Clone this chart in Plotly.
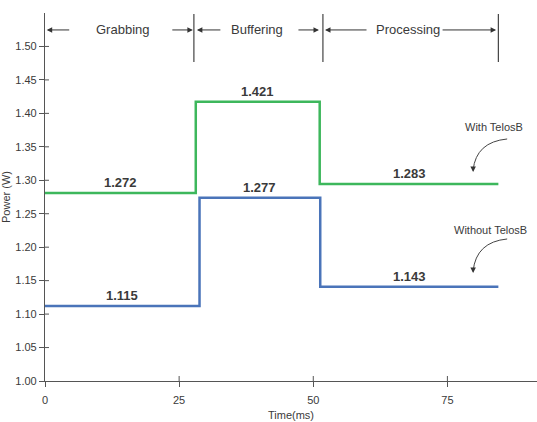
import plotly.graph_objects as go

# ---- data ----
phase_names = ["Grabbing", "Buffering", "Processing"]
phase_bounds = [0.0, 27.75, 51.8, 84.5]

with_t = [0.0, 28.1, 51.2, 84.5]
with_p = [1.281, 1.4175, 1.2945, 1.2945]
with_labels = ["1.272", "1.421", "1.283"]

without_t = [0.0, 28.8, 51.3, 84.5]
without_p = [1.112, 1.274, 1.141, 1.141]
without_labels = ["1.115", "1.277", "1.143"]

x_ticks = [0, 25, 50, 75]
y_ticks = [1.00, 1.05, 1.10, 1.15, 1.20, 1.25, 1.30, 1.35, 1.40, 1.45, 1.50]

X_RANGE = [0, 91.7]
Y_RANGE = [1.0, 1.55]

GREEN = "#3db75c"
BLUE = "#4a74b9"
TXT = "#3a3a3a"
AX = "#555555"
FONT = "Liberation Sans, Arial, sans-serif"

# px -> data helpers for decorations
def px_x(px):
    return (px - 45.3) / 5.36

def px_y(py):
    return 1 + (381 - py) / 669.0

fig = go.Figure()
fig.add_trace(go.Scatter(x=with_t, y=with_p, mode="lines", line=dict(color=GREEN, width=2.5, shape="hv"),
                         showlegend=False, hoverinfo="skip"))
fig.add_trace(go.Scatter(x=without_t, y=without_p, mode="lines", line=dict(color=BLUE, width=2.5, shape="hv"),
                         showlegend=False, hoverinfo="skip"))

ann = []
# value labels centred on segments
for t, p, labs in [(with_t, with_p, with_labels), (without_t, without_p, without_labels)]:
    for i, lab in enumerate(labs):
        xm = (t[i] + t[i + 1]) / 2
        ann.append(dict(x=xm, y=p[i], text="<b>" + lab + "</b>", showarrow=False, yanchor="bottom",
                        yshift=1, font=dict(size=13, color=TXT, family=FONT)))

# phase header
y_hdr = px_y(30)
arrow_px = [((71, 47), (171, 193)), ((222, 197), (297, 319)), ((368, 325), (441, 496))]
text_px = [123, 257, 408]
for name, tx, arrs in zip(phase_names, text_px, arrow_px):
    ann.append(dict(x=px_x(tx), y=y_hdr, text=name, showarrow=False,
                    font=dict(size=13, color=TXT, family=FONT)))
    for tail, head in arrs:
        ann.append(dict(x=px_x(head), y=y_hdr, ax=px_x(tail), ay=y_hdr, axref="x", ayref="y",
                        text="", showarrow=True, arrowhead=2, arrowsize=1.1, arrowwidth=1,
                        arrowcolor="#333", standoff=0))

shapes = []
for b in phase_bounds[1:]:
    shapes.append(dict(type="line", x0=b, x1=b, y0=px_y(62), y1=px_y(14), xref="x", yref="y",
                       line=dict(color="#444", width=1.2)))

# inner halves of the crossing ticks
for v in x_ticks[1:]:
    shapes.append(dict(type="line", xref="x", yref="paper", ysizemode="pixel", yanchor=0,
                       x0=v, x1=v, y0=0, y1=5, line=dict(color=AX, width=1)))
for v in y_ticks[1:]:
    shapes.append(dict(type="line", xref="paper", yref="y", xsizemode="pixel", xanchor=0,
                       x0=0, x1=4, y0=v, y1=v, line=dict(color=AX, width=1)))

# curved callouts
for label, tx, ty, s, c, e in [
    ("With TelosB", 494, 127, (507, 139), (476, 142), (473, 170)),
    ("Without TelosB", 490, 230, (507, 239), (476, 242), (473, 271)),
]:
    ann.append(dict(x=px_x(tx), y=px_y(ty), text=label, showarrow=False,
                    font=dict(size=11, color=TXT, family=FONT)))
    path = "M %f,%f Q %f,%f %f,%f" % (px_x(s[0]), px_y(s[1]), px_x(c[0]), px_y(c[1]),
                                       px_x(e[0]), px_y(e[1]))
    shapes.append(dict(type="path", path=path, xref="x", yref="y", line=dict(color="#444", width=1)))
    ann.append(dict(x=px_x(e[0]), y=px_y(e[1] + 2), ax=0, ay=-6, text="", showarrow=True,
                    arrowhead=2, arrowsize=1.1, arrowwidth=1, arrowcolor="#333", standoff=0))

tickfont = dict(size=11, color=TXT, family=FONT)
fig.update_layout(
    width=537, height=422,
    margin=dict(l=45, r=0, t=13, b=41),
    paper_bgcolor="white", plot_bgcolor="white",
    font=dict(family=FONT, color=TXT),
    xaxis=dict(range=X_RANGE, tickvals=x_ticks, ticktext=[str(v) for v in x_ticks],
               ticks="outside", ticklen=5, tickcolor=AX, showline=True, linecolor=AX, linewidth=1.2,
               showgrid=False, zeroline=False, tickfont=tickfont, ticklabelstandoff=4,
               title=dict(text="Time(ms)", font=dict(size=11, color=TXT, family=FONT), standoff=6)),
    yaxis=dict(range=Y_RANGE, tickvals=y_ticks, ticktext=["%.2f" % v for v in y_ticks],
               ticks="outside", ticklen=5, tickcolor=AX, showline=True, linecolor=AX, linewidth=1.2,
               showgrid=False, zeroline=False, tickfont=tickfont,
               title=dict(text="Power (W)", font=dict(size=11, color=TXT, family=FONT), standoff=7)),
    annotations=ann, shapes=shapes,
)
fig.write_html("out.html")
